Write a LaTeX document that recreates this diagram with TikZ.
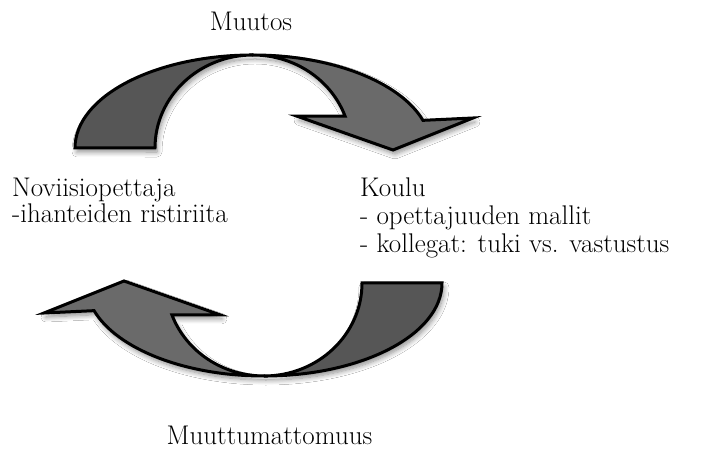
\documentclass[tikz,border=0pt]{standalone}
\usetikzlibrary{shadows.blur}
\definecolor{banddark}{RGB}{86,86,86}
\definecolor{bandlight}{RGB}{106,106,106}
\tikzset{
  bandline/.style={draw=black, line width=3pt, line join=miter, miter limit=20},
  txt/.style={font=\fontsize{27}{28}\selectfont, inner sep=0pt, anchor=base west},
  txtc/.style={txt, anchor=base},
  softshadow/.style={blur shadow={shadow xshift=2pt, shadow yshift=-4pt, shadow blur radius=5pt, shadow blur steps=8, shadow opacity=45}}
}
\newcommand\twistarrow{%
  \path[softshadow]
    (75,307) arc[start angle=180,end angle=17.3,x radius=178,y radius=93]
    -- (473,337) -- (393,305) -- (297,338.8) -- (345.1,338.8)
    arc[start angle=20,end angle=180,x radius=98,y radius=93] -- cycle;
  \draw[bandline, fill=banddark] (75,307)
    arc[start angle=180,end angle=90,x radius=178,y radius=93]
    arc[start angle=90,end angle=180,x radius=98,y radius=93] -- cycle;
  \draw[bandline, fill=bandlight] (253,400)
    arc[start angle=90,end angle=17.3,x radius=178,y radius=93]
    -- (473,337) -- (393,305) -- (297,338.8) -- (345.1,338.8)
    arc[start angle=20,end angle=90,x radius=98,y radius=93] -- cycle;
}
\begin{document}
\begin{tikzpicture}[x=1pt,y=1pt]
\fill[white] (0,0) rectangle (706,455);
\useasboundingbox (0,0) rectangle (706,455);
\twistarrow
\begin{scope}[rotate around={180:(258.5,239.5)}]
\twistarrow
\end{scope}
\node[txtc] (muutos) at (251,424) {Muutos};
\node[txtc] (muuttum) at (269.5,11) {Muuttumattomuus};
\node[txt] (nov1) at (12,258) {Noviisiopettaja};
\node[txt] (nov2) at (12,232) {-ihanteiden ristiriita};
\node[txt] (koulu1) at (360,258) {Koulu};
\node[txt] (koulu2) at (360,230) {- opettajuuden mallit};
\node[txt] (koulu3) at (360,202) {- kollegat: tuki vs. vastustus};
\end{tikzpicture}
\end{document}
